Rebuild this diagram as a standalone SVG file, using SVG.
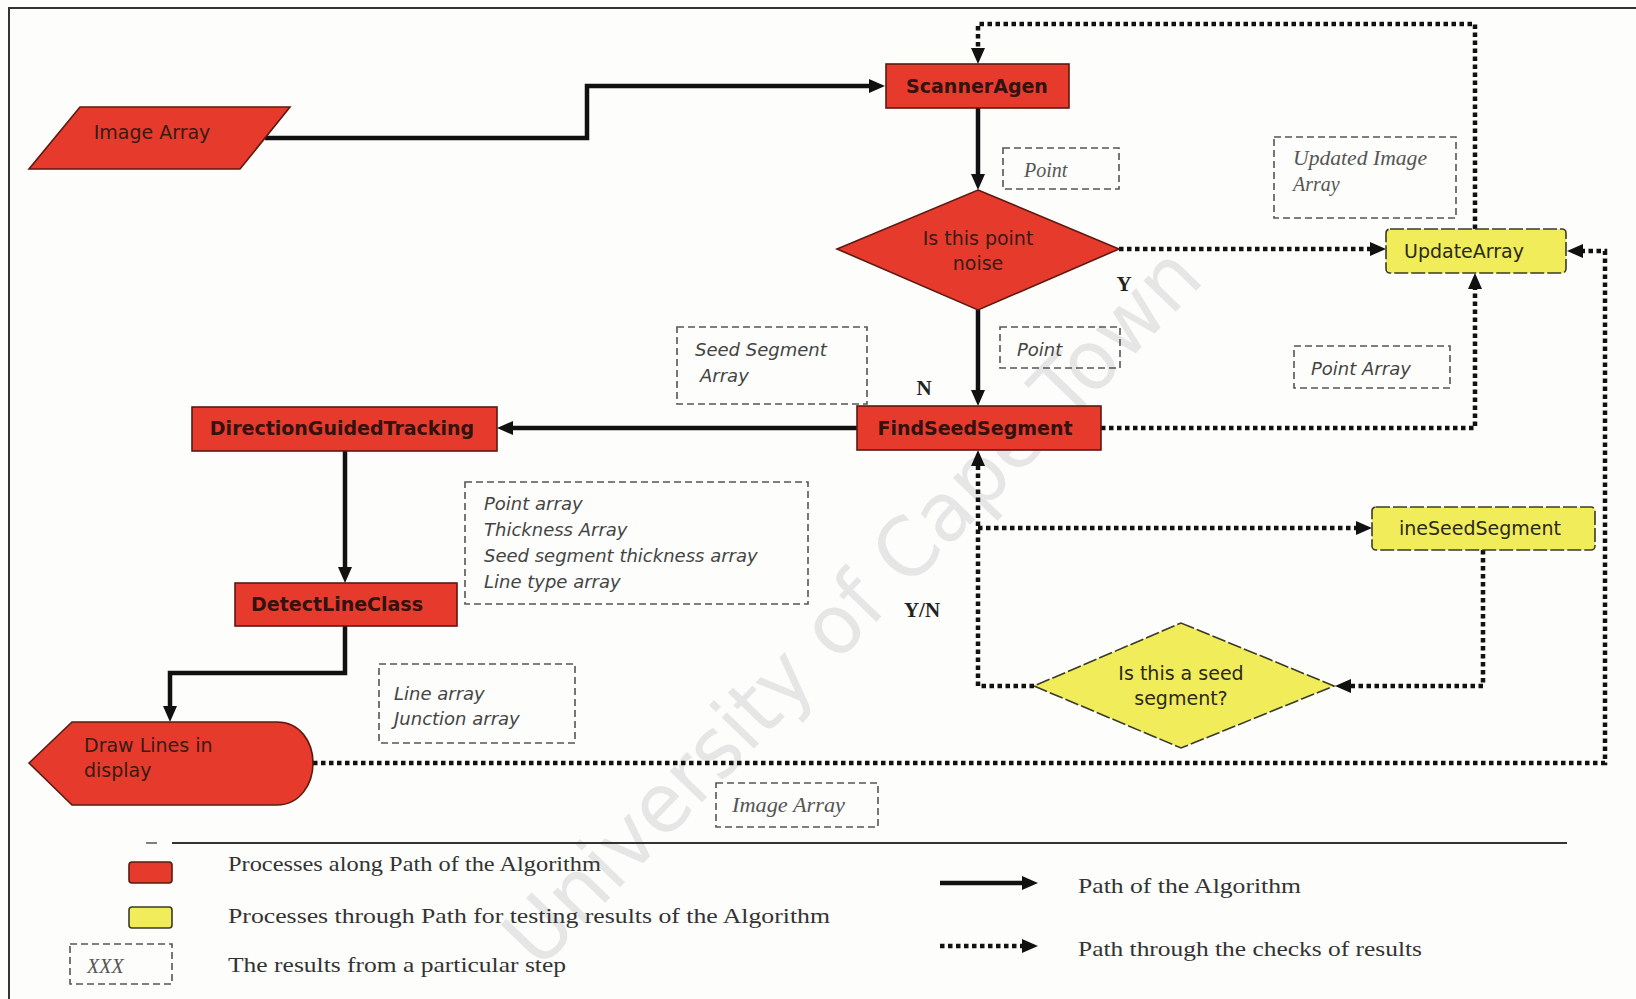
<svg xmlns="http://www.w3.org/2000/svg" width="1636" height="999" viewBox="0 0 1636 999">
  <style>
    .sans { font-family: "DejaVu Sans", "Liberation Sans", sans-serif; }
    .serif { font-family: "Liberation Serif", "Times New Roman", serif; }
    .proc { fill: #e63a2c; stroke: #5c1a12; stroke-width: 1.6; }
    .check { fill: #f1ec5a; stroke: #3a3a2a; stroke-width: 1.6; stroke-dasharray: 14 3; }
    .res { fill: none; stroke: #555; stroke-width: 1.6; stroke-dasharray: 7 4; }
    .lbl-bold { font-size: 19px; font-weight: bold; fill: #331210; }
    .lbl { font-size: 19px; fill: #3a1a14; }
    .lbl-y { font-size: 19px; fill: #2a2a1a; }
    .res-txt { font-size: 18px; font-style: italic; fill: #444; }
    .res-serif { font-size: 20px; font-style: italic; fill: #555; }
    .yn { font-size: 21px; font-weight: bold; fill: #222; }
    .legend-txt { font-size: 21px; fill: #333; }
    .solid { fill: none; stroke: #111; stroke-width: 4.5; }
    .dotted { fill: none; stroke: #111; stroke-width: 4.5; stroke-dasharray: 4.5 3.5; }
  </style>
  <defs>
    <marker id="ah" viewBox="0 0 16 14" refX="6" refY="7" markerWidth="16" markerHeight="14" orient="auto" markerUnits="userSpaceOnUse">
      <path d="M0,0 L16,7 L0,14 z" fill="#111"/>
    </marker>
  </defs>

  <rect x="0" y="0" width="1636" height="999" fill="#fdfdfb"/>

  <!-- watermark -->
  <g id="watermark">
    <text class="sans" x="852" y="606" font-size="82" fill="#e6e6e6" text-anchor="middle" dominant-baseline="central" textLength="960" lengthAdjust="spacingAndGlyphs" transform="rotate(-46 852 606)">University of Cape Town</text>
  </g>

  <!-- frame -->
  <path id="frame" d="M9,999 V8 H1636" fill="none" stroke="#333" stroke-width="2"/>

  <!-- connectors -->
  <g id="connectors">
    <path class="solid" d="M265,138 H587 V86 H875" marker-end="url(#ah)"/>
    <path class="solid" d="M978,108 V180" marker-end="url(#ah)"/>
    <path class="solid" d="M978,310 V396" marker-end="url(#ah)"/>
    <path class="solid" d="M857,428 H507" marker-end="url(#ah)"/>
    <path class="solid" d="M345,451 V573" marker-end="url(#ah)"/>
    <path class="solid" d="M345,626 V673 H170 V712" marker-end="url(#ah)"/>

    <path class="dotted" d="M1475,229 V24 H978 V54" marker-end="url(#ah)"/>
    <path class="dotted" d="M1119,249 H1376" marker-end="url(#ah)"/>
    <path class="dotted" d="M1101,428 H1475 V283" marker-end="url(#ah)"/>
    <path class="dotted" d="M313,763 H1605 V251 H1577" marker-end="url(#ah)"/>
    <path class="dotted" d="M1034,686 H978 V460" marker-end="url(#ah)"/>
    <path class="dotted" d="M978,528 H1362" marker-end="url(#ah)"/>
    <path class="dotted" d="M1483,550 V686 H1345" marker-end="url(#ah)"/>
  </g>

  <!-- processes along the algorithm path -->
  <g id="image-array">
    <polygon class="proc" points="80,107 290,107 240,169 29,169"/>
    <text class="sans lbl" x="152" y="139" text-anchor="middle" fill="#4d2b26">Image Array</text>
  </g>

  <g id="scanner-agen">
    <rect class="proc" x="886" y="64" width="183" height="44"/>
    <text class="sans lbl-bold" x="977" y="93" text-anchor="middle">ScannerAgen</text>
  </g>

  <g id="point-noise">
    <polygon class="proc" points="978,190 1119,249 978,310 837,249"/>
    <text class="sans lbl" x="978" y="245" text-anchor="middle">Is this point</text>
    <text class="sans lbl" x="978" y="270" text-anchor="middle">noise</text>
  </g>

  <g id="find-seed-segment">
    <rect class="proc" x="857" y="406" width="244" height="44"/>
    <text class="sans lbl-bold" x="975" y="435" text-anchor="middle">FindSeedSegment</text>
  </g>

  <g id="direction-guided-tracking">
    <rect class="proc" x="192" y="407" width="305" height="44"/>
    <text class="sans lbl-bold" x="342" y="435" text-anchor="middle">DirectionGuidedTracking</text>
  </g>

  <g id="detect-line-class">
    <rect class="proc" x="235" y="583" width="222" height="43"/>
    <text class="sans lbl-bold" x="337" y="611" text-anchor="middle">DetectLineClass</text>
  </g>

  <g id="draw-lines">
    <path class="proc" d="M29,763 L72,722 H277 C300,722 313,742 313,763 C313,784 300,805 277,805 H72 Z"/>
    <text class="sans lbl" x="84" y="752" fill="#4d2b26">Draw Lines in</text>
    <text class="sans lbl" x="84" y="777" fill="#4d2b26">display</text>
  </g>

  <!-- processes for testing results -->
  <g id="update-array">
    <rect class="check" x="1386" y="229" width="180" height="44" rx="4"/>
    <text class="sans lbl-y" x="1464" y="258" text-anchor="middle">UpdateArray</text>
  </g>

  <g id="line-seed-segment">
    <rect class="check" x="1372" y="507" width="223" height="43" rx="4"/>
    <text class="sans lbl-y" x="1480" y="535" text-anchor="middle">ineSeedSegment</text>
  </g>

  <g id="seed-check">
    <polygon class="check" points="1181,623 1334,686 1181,748 1034,686"/>
    <text class="sans lbl-y" x="1181" y="680" text-anchor="middle">Is this a seed</text>
    <text class="sans lbl-y" x="1181" y="705" text-anchor="middle">segment?</text>
  </g>

  <!-- results of each step -->
  <g id="res-point-top">
    <rect class="res" x="1003" y="148" width="116" height="41"/>
    <text class="serif res-serif" x="1024" y="177">Point</text>
  </g>

  <g id="res-updated-image">
    <rect class="res" x="1274" y="137" width="182" height="81"/>
    <text class="serif res-serif" x="1293" y="165" textLength="134" lengthAdjust="spacingAndGlyphs">Updated Image</text>
    <text class="serif res-serif" x="1293" y="191">Array</text>
  </g>

  <g id="res-point-mid">
    <rect class="res" x="1000" y="327" width="120" height="41"/>
    <text class="sans res-txt" x="1017" y="356">Point</text>
  </g>

  <g id="res-point-array">
    <rect class="res" x="1294" y="346" width="156" height="42"/>
    <text class="sans res-txt" x="1311" y="375">Point Array</text>
  </g>

  <g id="res-seed-segment">
    <rect class="res" x="677" y="327" width="190" height="77"/>
    <text class="sans res-txt" x="695" y="356">Seed Segment</text>
    <text class="sans res-txt" x="700" y="382">Array</text>
  </g>

  <g id="res-tracking">
    <rect class="res" x="465" y="482" width="343" height="122"/>
    <text class="sans res-txt" x="484" y="510">Point array</text>
    <text class="sans res-txt" x="484" y="536">Thickness Array</text>
    <text class="sans res-txt" x="484" y="562">Seed segment thickness array</text>
    <text class="sans res-txt" x="484" y="588">Line type array</text>
  </g>

  <g id="res-lines">
    <rect class="res" x="379" y="664" width="196" height="79"/>
    <text class="sans res-txt" x="394" y="700">Line array</text>
    <text class="sans res-txt" x="394" y="725">Junction array</text>
  </g>

  <g id="res-image-array">
    <rect class="res" x="716" y="783" width="162" height="44"/>
    <text class="serif res-serif" x="732" y="812" textLength="113" lengthAdjust="spacingAndGlyphs">Image Array</text>
  </g>

  <!-- decision labels -->
  <g id="labels">
    <text class="serif yn" x="1124" y="291" text-anchor="middle">Y</text>
    <text class="serif yn" x="924" y="395" text-anchor="middle">N</text>
    <text class="serif yn" x="922" y="617" text-anchor="middle">Y/N</text>
  </g>

  <!-- legend -->
  <g id="legend">
    <line x1="146" y1="843" x2="157" y2="843" stroke="#555" stroke-width="1.5"/>
    <line x1="172" y1="843" x2="1567" y2="843" stroke="#333" stroke-width="2"/>
    <rect x="129" y="862" width="43" height="21" rx="3" fill="#e63a2c" stroke="#5c1a12" stroke-width="1.6"/>
    <rect x="129" y="907" width="43" height="21" rx="3" fill="#f1ec5a" stroke="#3a3a2a" stroke-width="1.6"/>
    <rect class="res" x="70" y="944" width="102" height="40"/>
    <text class="serif res-serif" x="87" y="973">XXX</text>
    <text class="serif legend-txt" x="228" y="871" textLength="373" lengthAdjust="spacingAndGlyphs">Processes along Path of the Algorithm</text>
    <text class="serif legend-txt" x="228" y="923" textLength="602" lengthAdjust="spacingAndGlyphs">Processes through Path for testing results of the Algorithm</text>
    <text class="serif legend-txt" x="228" y="972" textLength="338" lengthAdjust="spacingAndGlyphs">The results from a particular step</text>
    <path class="solid" d="M940,883 H1028" marker-end="url(#ah)"/>
    <path class="dotted" d="M940,946 H1028" marker-end="url(#ah)"/>
    <text class="serif legend-txt" x="1078" y="893" textLength="223" lengthAdjust="spacingAndGlyphs">Path of the Algorithm</text>
    <text class="serif legend-txt" x="1078" y="956" textLength="344" lengthAdjust="spacingAndGlyphs">Path through the checks of results</text>
  </g>
</svg>
